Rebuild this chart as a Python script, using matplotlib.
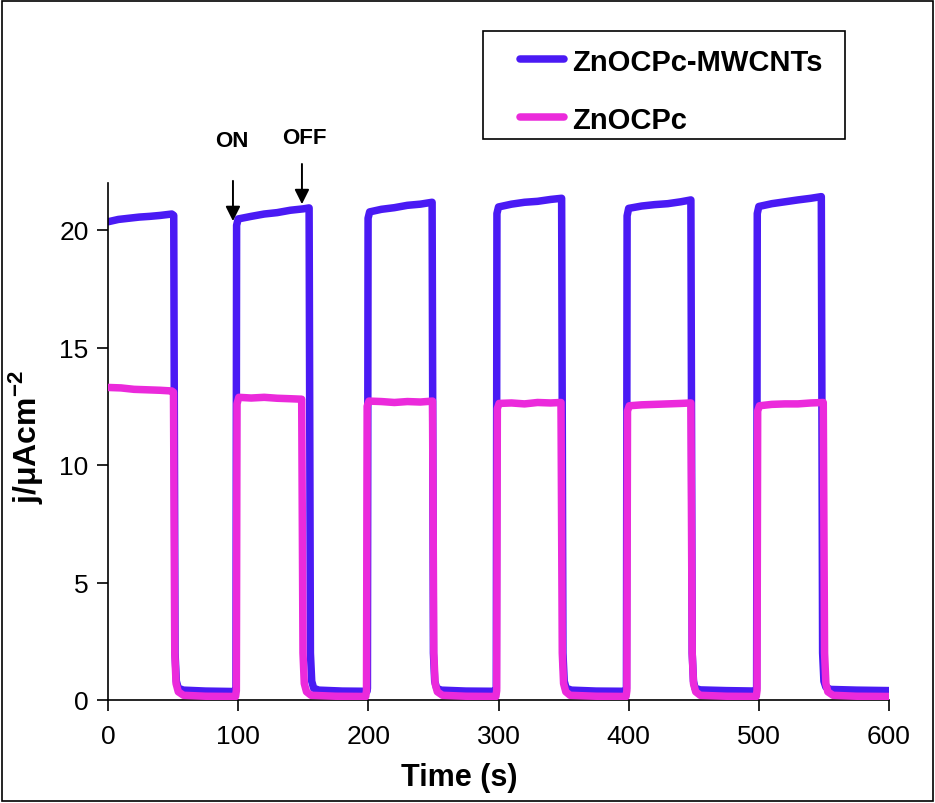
import matplotlib
matplotlib.use("Agg")
import matplotlib.pyplot as plt
from matplotlib.patches import Rectangle
from matplotlib.lines import Line2D

plt.rcParams['font.family'] = ['Liberation Sans', 'DejaVu Sans']
plt.rcParams['mathtext.fontset'] = 'custom'
plt.rcParams['mathtext.rm'] = 'Liberation Sans'
plt.rcParams['mathtext.bf'] = 'Liberation Sans:bold'

# ---- data ----
t_mwcnt = [0, 8, 16, 24, 32, 40, 49, 50.5,
           51.5, 52.5, 54, 58, 75, 97.5,
           98.3, 98.8, 100, 110, 120, 130, 140, 150, 154.5,
           155.5, 156.5, 158, 162, 180, 199,
           199.3, 199.8, 201, 210, 220, 230, 240, 249,
           250, 251, 252.5, 256, 275, 298,
           298.3, 298.8, 300, 310, 320, 330, 340, 348.5,
           349.5, 350.5, 352, 356, 375, 398,
           398.3, 398.8, 400, 410, 420, 430, 440, 447.8,
           448.8, 449.8, 451, 455, 475, 498,
           498.3, 498.8, 500, 510, 520, 530, 540, 548,
           549, 550, 551.5, 555, 575, 600]
j_mwcnt = [20.35, 20.45, 20.5, 20.55, 20.58, 20.62, 20.68, 20.62,
           2.0, 0.8, 0.5, 0.42, 0.38, 0.36,
           0.5, 20.2, 20.47, 20.58, 20.68, 20.74, 20.84, 20.9, 20.94,
           2.0, 0.8, 0.5, 0.42, 0.38, 0.37,
           0.5, 20.5, 20.77, 20.88, 20.95, 21.05, 21.1, 21.18,
           2.0, 0.8, 0.5, 0.42, 0.38, 0.37,
           0.5, 20.7, 20.98, 21.1, 21.18, 21.22, 21.3, 21.35,
           2.0, 0.8, 0.5, 0.42, 0.38, 0.37,
           0.5, 20.6, 20.92, 21.02, 21.08, 21.12, 21.2, 21.28,
           2.0, 0.8, 0.5, 0.43, 0.4, 0.38,
           0.5, 20.7, 21.0, 21.12, 21.2, 21.28, 21.35, 21.42,
           2.0, 0.8, 0.55, 0.45, 0.42, 0.4]

t_zno = [0, 10, 20, 30, 40, 49, 50.3,
         51.3, 52.3, 54, 58, 75, 98,
         98.6, 99.1, 100.5, 110, 120, 130, 140, 148.8,
         149.8, 150.8, 152.5, 156, 175, 198,
         198.6, 199.1, 200.5, 210, 220, 230, 240, 249.3,
         250.3, 251.3, 253, 257, 275, 298,
         298.6, 299.1, 300.5, 310, 320, 330, 340, 348,
         349, 350, 351.7, 355, 375, 398,
         398.6, 399.1, 400.5, 410, 420, 430, 440, 447.8,
         448.8, 449.8, 451.5, 455, 475, 498,
         498.6, 499.1, 500.5, 510, 520, 530, 540, 549.5,
         550.5, 551.5, 553, 557, 575, 600]
j_zno = [13.3, 13.28, 13.22, 13.2, 13.18, 13.15, 13.1,
         2.0, 0.7, 0.35, 0.2, 0.16, 0.15,
         0.4, 12.6, 12.88, 12.85, 12.88, 12.84, 12.82, 12.8,
         2.0, 0.7, 0.35, 0.2, 0.16, 0.15,
         0.4, 12.5, 12.72, 12.7, 12.66, 12.7, 12.68, 12.72,
         2.0, 0.7, 0.35, 0.2, 0.16, 0.15,
         0.4, 12.4, 12.62, 12.64, 12.6, 12.66, 12.64, 12.66,
         2.0, 0.7, 0.35, 0.2, 0.16, 0.15,
         0.4, 12.3, 12.52, 12.56, 12.58, 12.6, 12.62, 12.64,
         2.0, 0.7, 0.35, 0.2, 0.16, 0.15,
         0.4, 12.3, 12.52, 12.58, 12.6, 12.6, 12.64, 12.66,
         2.0, 0.7, 0.35, 0.2, 0.16, 0.15]

labels = ['ZnOCPc-MWCNTs', 'ZnOCPc']
colors = ['#4A1AF4', '#EB2ADB']
x_ticks = [0, 100, 200, 300, 400, 500, 600]
y_ticks = [0, 5, 10, 15, 20]

# ---- figure ----
W, H = 935, 804
fig = plt.figure(figsize=(W / 100, H / 100), dpi=100)
ax = fig.add_axes([108 / W, 1 - 701 / H, 781 / W, 517 / H])

lw = 5.4
series = [(t_mwcnt, j_mwcnt), (t_zno, j_zno)]
for (t, j), c, lab, z in zip(series, colors, labels, [2, 3]):
    ax.plot(t, j, color=c, lw=lw, solid_joinstyle='round',
            solid_capstyle='round', label=lab, zorder=z)

ax.set_xlim(0, 600)
ax.set_ylim(0, 22)
ax.set_xticks(x_ticks)
ax.set_yticks(y_ticks)
for s in ['top', 'right']:
    ax.spines[s].set_visible(False)
for s in ['left', 'bottom']:
    ax.spines[s].set_linewidth(1.2)
ax.tick_params(axis='both', direction='out', length=8, width=1.2,
               labelsize=19, pad=6)
ax.tick_params(axis='x', pad=9)

ax.set_xlabel('Time (s)', fontsize=22, fontweight='bold')
ax.xaxis.set_label_coords(0.45, -0.12)
ax.set_ylabel(r'j/μAcm$^{\mathbf{-2}}$', fontsize=23, fontweight='bold')
ax.yaxis.set_label_coords(-0.081, 0.51)

# ON / OFF arrows
arrow_kw = dict(arrowstyle='-|>', color='black', lw=1.4,
                mutation_scale=22, shrinkA=0, shrinkB=0)
ax.annotate('', xy=(96.0, 20.38), xytext=(96.0, 22.09), annotation_clip=False,
            arrowprops=arrow_kw)
ax.annotate('', xy=(149.0, 21.1), xytext=(149.0, 22.81), annotation_clip=False,
            arrowprops=arrow_kw)
ax.text(95.2, 23.8, 'ON', ha='center', va='center', fontsize=16,
        fontweight='bold', clip_on=False)
ax.text(150.5, 23.95, 'OFF', ha='center', va='center', fontsize=16,
        fontweight='bold', clip_on=False)

# legend (box drawn in figure pixels)
def fx(px):
    return px / W

def fy(py):
    return 1 - py / H

fig.patches.append(Rectangle((fx(483), fy(140)), fx(845) - fx(483), fy(32) - fy(140),
                             transform=fig.transFigure, fill=False,
                             edgecolor='black', lw=1.2))
for lab, c, py in zip(labels, colors, [60, 118]):
    fig.add_artist(Line2D([fx(519.5), fx(563.5)], [fy(py), fy(py)],
                          transform=fig.transFigure, color=c, lw=lw,
                          solid_capstyle='round'))
    fig.text(fx(572), fy(py), lab, ha='left', va='center_baseline',
             fontsize=21, fontweight='bold')

fig.patches.append(Rectangle((0.002, 0.002), 0.996, 0.996, transform=fig.transFigure,
                             fill=False, edgecolor='black', lw=1.2))

fig.savefig('out.png', dpi=100)
